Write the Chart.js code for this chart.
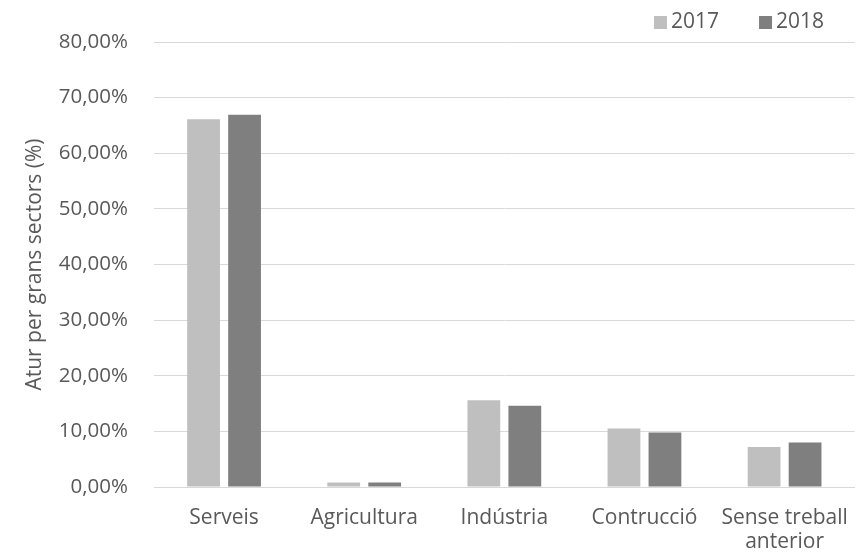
<!DOCTYPE html>
<html>
<head>
<meta charset="utf-8">
<script src="https://cdn.jsdelivr.net/npm/chart.js@4/dist/chart.umd.min.js"></script>
<style>
  html, body { margin: 0; padding: 0; background: #fff; }
  #wrap { width: 859px; height: 557px; }
</style>
</head>
<body>
<div id="wrap"><canvas id="atur" width="859" height="557"></canvas></div>
<script>
// Atur per grans sectors
const sectors = ['Serveis', 'Agricultura', 'Indústria', 'Contrucció', ['Sense treball', 'anterior']];
const atur2017 = [66.1, 0.8, 15.6, 10.5, 7.2];
const atur2018 = [66.9, 0.8, 14.6, 9.8, 8.0];
const yTicks = [0, 10, 20, 30, 40, 50, 60, 70, 80];

const textColor = '#595959';
const fontFam = '"Open Sans", "Noto Sans", sans-serif';

// small legend at top right, like the excel one
const cornerLegend = {
    id: 'cornerLegend',
    afterDraw(chart) {
        const ctx = chart.ctx;
        ctx.save();
        ctx.font = '21px ' + fontFam;
        ctx.textBaseline = 'middle';
        let x = 654;
        chart.data.datasets.forEach((ds) => {
            ctx.fillStyle = ds.backgroundColor;
            ctx.fillRect(x, 16, 13, 13);
            ctx.fillStyle = textColor;
            ctx.fillText(ds.label, x + 17, 22);
            x += ctx.measureText(ds.label).width + 17 + 40;
        });
        ctx.restore();
    }
};

const ctx = document.getElementById('atur').getContext('2d');
const chart = new Chart(ctx, {
    type: 'bar',
    data: {
        labels: sectors,
        datasets: [
            {
                label: '2017',
                data: atur2017,
                backgroundColor: '#bfbfbf',
                categoryPercentage: 0.585,
                barPercentage: 0.8
            },
            {
                label: '2018',
                data: atur2018,
                backgroundColor: '#7f7f7f',
                categoryPercentage: 0.585,
                barPercentage: 0.8
            }
        ]
    },
    options: {
        responsive: false,
        animation: false,
        devicePixelRatio: 1,
        layout: {
            padding: { top: 42, left: 22, right: 2, bottom: 0 }
        },
        plugins: {
            legend: { display: false },
            tooltip: { enabled: false }
        },
        scales: {
            x: {
                grid: { display: false },
                border: { display: true, color: '#d9d9d9', width: 1 },
                ticks: {
                    color: textColor,
                    font: { family: fontFam, size: 21, lineHeight: 1.15 },
                    padding: 11,
                    maxRotation: 0,
                    autoSkip: false
                },
                afterFit(scale) { scale.height = 70; }
            },
            y: {
                min: 0,
                max: 80,
                afterBuildTicks(scale) {
                    scale.ticks = yTicks.map(v => ({ value: v }));
                },
                grid: { color: '#d9d9d9', lineWidth: 1, drawTicks: false },
                border: { display: false },
                ticks: {
                    color: textColor,
                    font: { family: fontFam, size: 20.5 },
                    padding: 26,
                    callback: (v) => v.toFixed(2).replace('.', ',') + '%'
                },
                title: {
                    display: true,
                    text: 'Atur per grans sectors (%)',
                    color: textColor,
                    font: { family: fontFam, size: 21 },
                    padding: { top: 0, bottom: 0 }
                },
                afterFit(scale) { scale.width = 132; }
            }
        }
    },
    plugins: [cornerLegend]
});
</script>
</body>
</html>
